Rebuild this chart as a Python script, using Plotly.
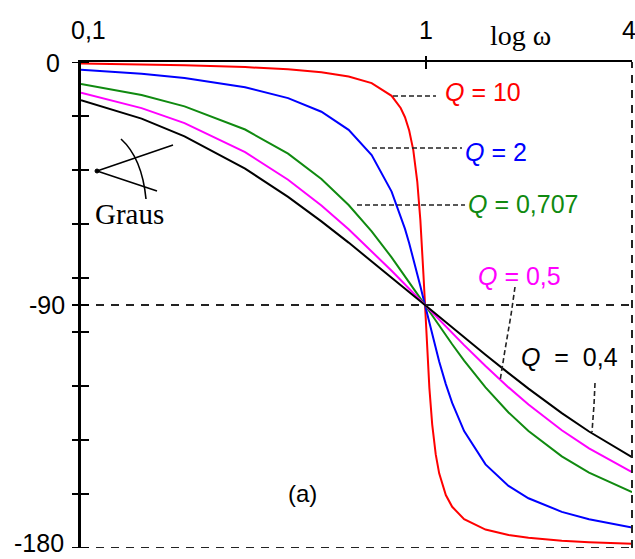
import math
import plotly.graph_objects as go

# ---- data (phase in degrees vs. omega) ----
omega = [0.1, 0.15, 0.2, 0.3, 0.4, 0.5, 0.6, 0.7, 0.8, 0.85, 0.875, 0.9, 0.925,
         0.95, 0.97, 0.99, 1.0, 1.01, 1.03, 1.05, 1.075, 1.1, 1.15, 1.2, 1.3,
         1.5, 1.75, 2, 2.5, 3, 4]

phase_q10 = [-0.58, -0.88, -1.19, -1.89, -2.73, -3.81, -5.36, -7.82, -12.53, -17.04,
             -20.45, -25.38, -32.64, -44.26, -58.65, -78.63, -90, -101.26, -120.60,
             -134.30, -145.36, -152.35, -160.37, -164.74, -169.33, -173.16, -175.15,
             -176.19, -177.27, -177.85, -178.47]
phase_q2 = [-2.89, -4.39, -5.95, -9.36, -13.39, -18.43, -25.14, -34.46, -48.01, -56.85,
            -61.82, -67.11, -72.66, -78.40, -83.05, -87.70, -90, -92.28, -96.74,
            -101.05, -106.15, -110.90, -119.29, -126.25, -136.71, -149.04, -157.01,
            -161.57, -166.61, -169.38, -172.41]
phase_q0707 = [-8.13, -12.24, -16.42, -25.01, -33.96, -43.31, -52.97, -62.74, -72.35,
               -77.00, -79.27, -81.51, -83.70, -85.85, -87.53, -89.19, -90, -90.81,
               -92.39, -93.95, -95.84, -97.69, -101.22, -104.54, -110.57, -120.51,
               -129.81, -136.69, -146.04, -152.05, -159.32]
phase_q05 = [-11.42, -17.07, -22.62, -33.40, -43.60, -53.13, -61.93, -69.98, -77.32,
             -80.73, -82.37, -83.97, -85.54, -87.06, -88.26, -89.42, -90, -90.57,
             -91.69, -92.79, -94.14, -95.45, -97.98, -100.39, -104.86, -112.62,
             -120.51, -126.87, -136.40, -143.13, -151.93]
phase_q04 = [-14.17, -20.98, -27.52, -39.49, -49.97, -59.04, -66.89, -73.75, -79.80,
             -82.56, -83.88, -85.17, -86.43, -87.65, -88.60, -89.54, -90, -90.46,
             -91.35, -92.24, -93.31, -94.37, -96.40, -98.34, -101.99, -108.43,
             -115.24, -120.96, -130.03, -136.85, -146.31]

series_labels = ["<i>Q</i> = 10", "<i>Q</i> = 2", "<i>Q</i> = 0,707",
                 "<i>Q</i> = 0,5", "<i>Q</i>  =  0,4"]
series_values = [phase_q10, phase_q2, phase_q0707, phase_q05, phase_q04]
series_colors = ["#ff0000", "#0000ff", "#108a10", "#ff00ff", "#000000"]

x_tick_labels = ["0,1", "1", "4"]
y_tick_values = [0, -20, -40, -60, -80, -90, -100, -120, -140, -160, -180]
y_tick_labels = ["0", "-90", "-180"]

# ---- layout helpers (window pixel -> paper) ----
W, H = 635, 559
L, R, T, B = 81, 3, 62, 11
PW, PH = W - L - R, H - T - B


def px(x):
    return (x - L) / PW


def py(y):
    return (H - B - y) / PH


SANS = "Liberation Sans, Arial, sans-serif"
SERIF = "Liberation Serif, Times New Roman, serif"

fig = go.Figure()
for vals, col in zip(series_values, series_colors):
    fig.add_trace(go.Scatter(x=omega, y=vals, mode="lines",
                             line=dict(color=col, width=2),
                             showlegend=False, hoverinfo="skip"))

shapes = []
DASH = "8px,7px"
# reference dashed lines
shapes.append(dict(type="line", xref="paper", yref="y", x0=0, x1=1, y0=-90, y1=-90,
                   line=dict(color="#222", width=2, dash=DASH)))
shapes.append(dict(type="line", xref="paper", yref="y", x0=0, x1=1, y0=-180, y1=-180,
                   line=dict(color="#222", width=2, dash=DASH)))
shapes.append(dict(type="line", xref="paper", yref="paper", x0=1, x1=1, y0=0, y1=1,
                   line=dict(color="#222", width=2, dash=DASH)))
# y ticks
for v in y_tick_values:
    shapes.append(dict(type="line", xref="paper", yref="y", x0=px(72), x1=px(89),
                       y0=v, y1=v, line=dict(color="black", width=2)))
# top tick at omega = 1
shapes.append(dict(type="line", xref="paper", yref="paper", x0=px(426), x1=px(426),
                   y0=py(56), y1=py(69), line=dict(color="black", width=2)))

# leader lines
LD = dict(color="#222", width=1.6, dash="5px,3px")
leaders = [
    [(393, 96), (436, 96)],
    [(372, 148), (462, 148)],
    [(357, 205), (465, 205)],
    [(515, 287), (511, 315), (505, 350), (500, 381)],
    [(595, 383), (594, 405), (592, 432)],
]
for pts in leaders:
    path = "M " + " L ".join(f"{px(a):.5f},{py(b):.5f}" for a, b in pts)
    shapes.append(dict(type="path", xref="paper", yref="paper", path=path, line=LD))

# angle symbol near "Graus"
SYM = dict(color="black", width=1.6)
shapes.append(dict(type="line", xref="paper", yref="paper", x0=px(97), y0=py(171),
                   x1=px(173), y1=py(145), line=SYM))
shapes.append(dict(type="line", xref="paper", yref="paper", x0=px(97), y0=py(171),
                   x1=px(157), y1=py(191), line=SYM))
arc = (f"M {px(121):.5f},{py(139):.5f} Q {px(142):.5f},{py(158):.5f} "
       f"{px(146):.5f},{py(199):.5f}")
shapes.append(dict(type="path", xref="paper", yref="paper", path=arc, line=SYM))
shapes.append(dict(type="circle", xref="paper", yref="paper",
                   x0=px(95), x1=px(99), y0=py(169), y1=py(173),
                   fillcolor="black", line=dict(color="black", width=1)))

annotations = []


def ann(text, x, y, size, color="black", family=SANS, xanchor="center"):
    annotations.append(dict(text=text, x=px(x), y=py(y), xref="paper", yref="paper",
                            showarrow=False, xanchor=xanchor, yanchor="middle",
                            font=dict(size=size, color=color, family=family)))


ann(x_tick_labels[0], 88, 30, 25)
ann(x_tick_labels[1], 426, 30, 25)
ann(x_tick_labels[2], 629, 30, 25)
ann("log ω", 520, 36, 28, family=SERIF)
ann(y_tick_labels[0], 53, 63, 25)
ann(y_tick_labels[1], 47, 305, 25)
ann(y_tick_labels[2], 39, 543, 25)
ann("Graus", 129, 214, 29, family=SERIF)
ann("(a)", 302, 493, 24)

label_pos = [(443, 92), (463, 152), (466, 204), (476, 276), (519, 357)]
for text, col, (lx, ly) in zip(series_labels, series_colors, label_pos):
    ann(text, lx, ly, 25, color=col, xanchor="left")

fig.update_layout(
    width=W, height=H, autosize=False,
    margin=dict(l=L, r=R, t=T, b=B, pad=0),
    paper_bgcolor="white", plot_bgcolor="white",
    xaxis=dict(type="log", range=[-1, math.log10(4)], side="top", showgrid=False,
               zeroline=False, showline=True, linecolor="black", linewidth=2,
               ticks="", showticklabels=False),
    yaxis=dict(range=[-180, 0], showgrid=False, zeroline=False, showline=True,
               linecolor="black", linewidth=2.5, ticks="", showticklabels=False),
    shapes=shapes, annotations=annotations,
)

fig.write_html("out.html",
               config={"displayModeBar": False},
               post_script="document.body.style.margin='0';"
                           "document.body.style.overflow='hidden';")
